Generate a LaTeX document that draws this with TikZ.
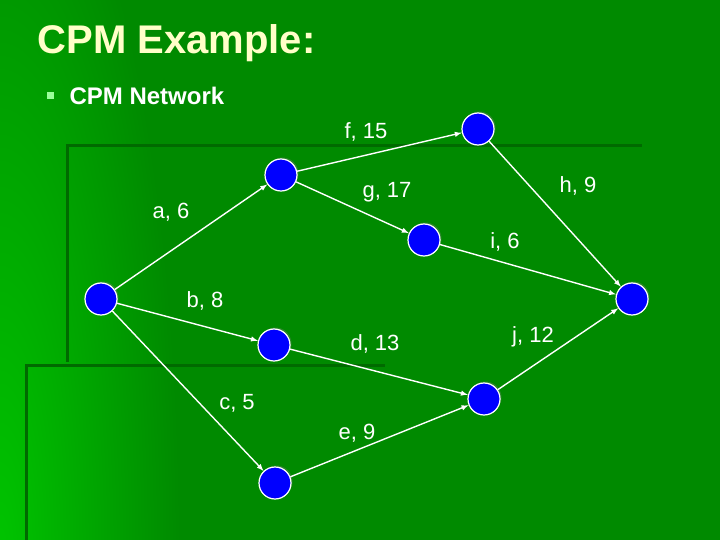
\documentclass[tikz,border=0pt]{standalone}
\usepackage{fontspec}
\setmainfont{Liberation Sans}
\usetikzlibrary{shadows}
\definecolor{slidegreen}{HTML}{008A00}
\definecolor{lightgreen}{HTML}{00C400}
\definecolor{darkline}{HTML}{006A00}
\definecolor{titleyellow}{HTML}{FFFFC8}
\definecolor{bulletgreen}{HTML}{99FF99}
\tikzset{
  ev/.style={circle, fill=blue, draw=white, line width=1.2pt, minimum size=32pt, inner sep=0pt,
    drop shadow={shadow xshift=1.5pt, shadow yshift=1.5pt, opacity=.35}},
  act/.style={draw=white, line width=1.4pt, -latex},
  lbl/.style={text=white, font=\fontsize{22}{26}\selectfont}
}
\begin{document}
\begin{tikzpicture}[x=1pt, y=-1pt]

	% Hintergrund der Folie
	\useasboundingbox (0,0) rectangle (720,540);
	\fill[slidegreen] (0,0) rectangle (720,540);
	\begin{scope}
		\clip (0,0) rectangle (720,540);
		\shade[inner color=lightgreen, outer color=slidegreen] (0,560) ellipse (180 and 760);
	\end{scope}

	% Dunkle Zierlinien
	\draw[darkline, line width=3pt] (66,146) -- (642,146);
	\draw[darkline, line width=3pt] (67,146) -- (67,362);
	\draw[darkline, line width=3pt] (25,365) -- (385,365);
	\draw[darkline, line width=3pt] (26,365) -- (26,540);

	% Titel und Aufzählungspunkt
	\node[anchor=west, text=titleyellow, font=\fontsize{40}{44}\bfseries\selectfont] (title) at (34,43) {CPM Example:};
	\fill[bulletgreen] (46.5,92.5) rectangle (53.5,99.5);
	\node[anchor=west, text=white, font=\fontsize{24}{28}\bfseries\selectfont] (sub) at (66,96) {CPM Network};

	% Ereignisse (Knoten)
	\node[ev] (n1) at (101,299) {};
	\node[ev] (n2) at (281,175) {};
	\node[ev] (n3) at (478,129) {};
	\node[ev] (n4) at (424,240) {};
	\node[ev] (n5) at (632,299) {};
	\node[ev] (n6) at (274,345) {};
	\node[ev] (n7) at (484,399) {};
	\node[ev] (n8) at (275,483) {};

	% Vorgänge (Pfeile)
	\draw[act] (n1) -- (n2);
	\draw[act] (n1) -- (n6);
	\draw[act] (n1) -- (n8);
	\draw[act] (n2) -- (n3);
	\draw[act] (n2) -- (n4);
	\draw[act] (n3) -- (n5);
	\draw[act] (n4) -- (n5);
	\draw[act] (n6) -- (n7);
	\draw[act] (n8) -- (n7);
	\draw[act] (n7) -- (n5);

	% Beschriftungen der Vorgänge
	\node[lbl] (la) at (171,212) {a, 6};
	\node[lbl] (lb) at (205,301) {b, 8};
	\node[lbl] (lc) at (237,403) {c, 5};
	\node[lbl] (ld) at (375,344) {d, 13};
	\node[lbl] (le) at (357,433) {e, 9};
	\node[lbl] (lf) at (366,132) {f, 15};
	\node[lbl] (lg) at (387,192) {g, 17};
	\node[lbl] (lh) at (578,186) {h, 9};
	\node[lbl] (li) at (505,242) {i, 6};
	\node[lbl] (lj) at (533,337) {j, 12};

\end{tikzpicture}
\end{document}
